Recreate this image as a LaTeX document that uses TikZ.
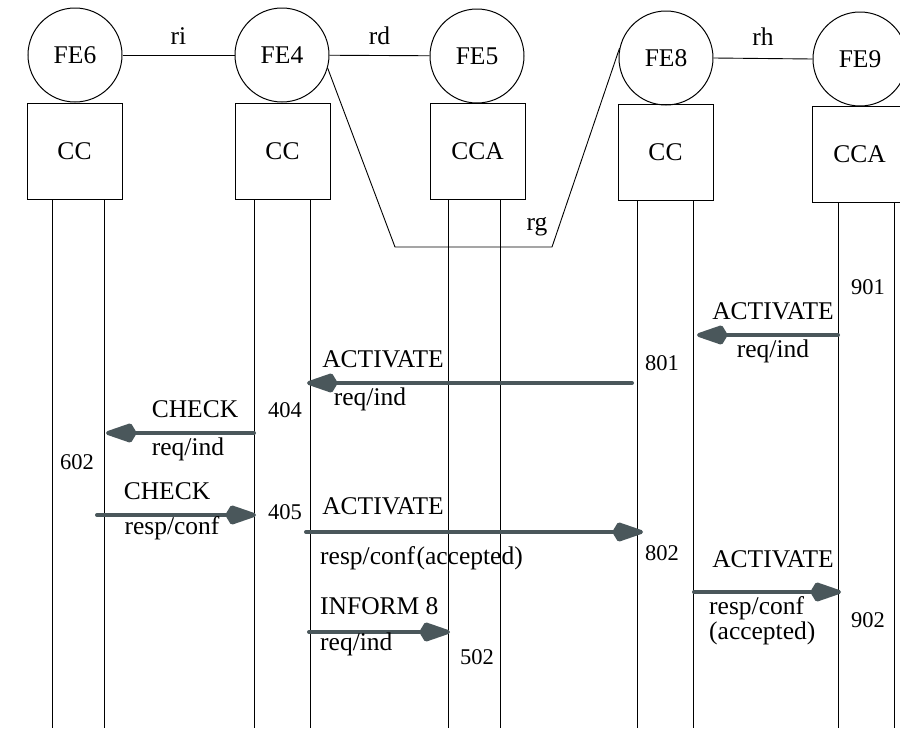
\documentclass[tikz,border=0pt]{standalone}
\usepackage{fontspec}
\setmainfont{Liberation Serif}
\usetikzlibrary{arrows.meta}
\definecolor{msgcol}{HTML}{4A575B}
\begin{document}
\begin{tikzpicture}[x=1pt,y=-1pt,
  txt/.style={font=\fontsize{25.5}{28}\selectfont},
  fe/.style={txt,circle,draw,line width=1pt,minimum size=94pt,inner sep=0pt},
  unit/.style={txt,draw,line width=1pt,minimum width=95pt,minimum height=96pt,inner sep=0pt},
  life/.style={line width=0.9pt},
  link/.style={line width=0.9pt},
  msg/.style={draw=msgcol,line width=4pt,line cap=round,
    -{Kite[length=35pt,width=20pt,inset=6pt,round]}},
  lbl/.style={txt,inner sep=0pt,text height=0.69em,text depth=0.22em},
  num/.style={font=\fontsize{22.5}{25}\selectfont,inner sep=0pt,text height=0.69em,text depth=0.22em}
]
\useasboundingbox (0,0) rectangle (900,731);
\clip (0,0) rectangle (900,731);

% functional entities
\node[fe] (fe6) at (75,55) {FE6};
\node[fe] (fe4) at (282,55) {FE4};
\node[fe] (fe5) at (477,56) {FE5};
\node[fe] (fe8) at (666,58) {FE8};
\node[fe] (fe9) at (860,59) {FE9};

% call control boxes
\node[unit] (cc6) at (74.5,151) {CC};
\node[unit] (cc4) at (282.5,151) {CC};
\node[unit] (cc5) at (477.5,151) {CCA};
\node[unit] (cc8) at (665.5,152.5) {CC};
\node[unit] (cc9) at (859.5,154) {CCA};

% relationships
\draw[link] (fe6) -- node[lbl,above=8pt] {ri} (fe4);
\draw[link] (fe4) -- node[lbl,above=8pt] {rd} (fe5);
\draw[link] (fe8.east) -- node[lbl,above=10pt] {rh} (fe9.west);
\coordinate (rg1) at (395,247);
\coordinate (rg2) at (552,247);
\draw[link] (fe4.-16) -- (rg1) -- (rg2) -- (fe8.168);
\node[lbl] (rglbl) at (537,228) {rg};

% lifelines
\foreach \b/\x/\n in {cc6/52/6a, cc6/104/6b, cc4/254/4a, cc4/310/4b,
                      cc5/448/5a, cc5/500/5b, cc8/637/8a, cc8/693/8b,
                      cc9/838/9a, cc9/894/9b}{
  \coordinate (top\n) at (\b.south -| \x,0);
  \coordinate (bot\n) at (\x,728);
  \draw[life] (top\n) -- (bot\n);
}

% message end points
\coordinate (m1s) at (838,335); \coordinate (m1e) at (697,335);
\coordinate (m2s) at (632,383); \coordinate (m2e) at (307,383);
\coordinate (m3s) at (254,433); \coordinate (m3e) at (106,433);
\coordinate (m4s) at (97,515);  \coordinate (m4e) at (256,515);
\coordinate (m5s) at (306,532); \coordinate (m5e) at (643,532);
\coordinate (m6s) at (694,592); \coordinate (m6e) at (841,592);
\coordinate (m7s) at (309,632); \coordinate (m7e) at (450,632);

% messages
\draw[msg] (m1s) -- (m1e);
\node[lbl] (m1a) at (773,317) {ACTIVATE};
\node[lbl] (m1b) at (773,355) {req/ind};

\draw[msg] (m2s) -- (m2e);
\node[lbl] (m2a) at (383,365) {ACTIVATE};
\node[lbl] (m2b) at (370,403) {req/ind};

\draw[msg] (m3s) -- (m3e);
\node[lbl] (m3a) at (195,415) {CHECK};
\node[lbl] (m3b) at (188,453) {req/ind};

\draw[msg] (m4s) -- (m4e);
\node[lbl] (m4a) at (167,497) {CHECK};
\node[lbl] (m4b) at (172,532) {resp/conf};

\draw[msg] (m5s) -- (m5e);
\node[lbl] (m5a) at (383,512) {ACTIVATE};
\node[lbl,anchor=west] (m5b) at (320,562) {resp/conf\kern1.5pt(accepted)};

\draw[msg] (m6s) -- (m6e);
\node[lbl] (m6a) at (773,565) {ACTIVATE};
\node[lbl,anchor=west] (m6b) at (709,612) {resp/conf};
\node[lbl,anchor=west] (m6c) at (709,637) {(accepted)};

\draw[msg] (m7s) -- (m7e);
\node[lbl,anchor=west] (m7a) at (320,612) {INFORM 8};
\node[lbl,anchor=west] (m7b) at (320,648) {req/ind};

% state numbers
\node[num] (n901) at (868,292) {901};
\node[num] (n801) at (662,368) {801};
\node[num] (n404) at (285,415) {404};
\node[num] (n602) at (77,467) {602};
\node[num] (n405) at (285,517) {405};
\node[num] (n802) at (662,558) {802};
\node[num] (n902) at (868,625) {902};
\node[num] (n502) at (477,662) {502};
\end{tikzpicture}
\end{document}
